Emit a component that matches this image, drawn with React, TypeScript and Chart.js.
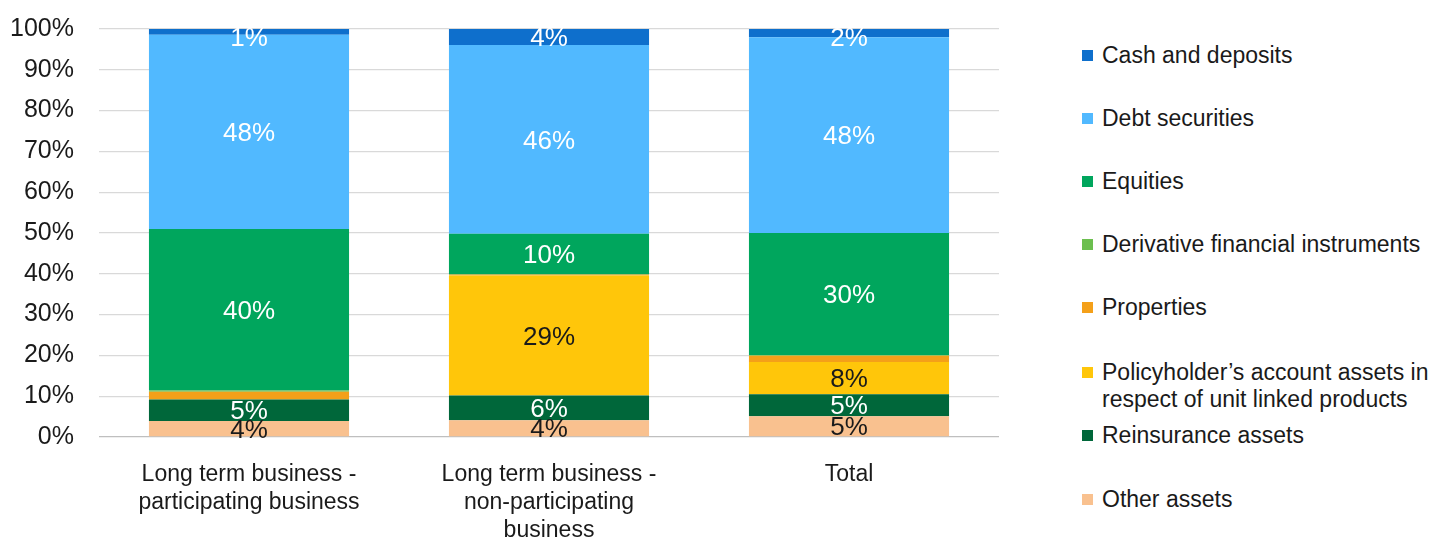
import React, { useEffect, useRef } from "react";
import { Chart, registerables } from "chart.js";

Chart.register(...registerables);

const categories: string[][] = [
  ["Long term business -", "participating business"],
  ["Long term business -", "non-participating", "business"],
  ["Total"],
];

// stacked bottom -> top
const otherAssets = [3.9, 4.1, 5.1];
const reinsuranceAssets = [5.3, 6.1, 5.4];
const policyholderAssets = [0, 29.4, 7.9];
const properties = [1.9, 0.2, 1.5];
const derivatives = [0.3, 0, 0.2];
const equities = [39.6, 10.0, 29.9];
const debtSecurities = [47.6, 46.3, 48.0];
const cashDeposits = [1.4, 3.9, 2.0];

const yTicks = [0, 10, 20, 30, 40, 50, 60, 70, 80, 90, 100];

const FONT = "'Liberation Sans', Arial, sans-serif";

const seriesDefs = [
  { label: "Other assets", data: otherAssets, color: "#F9C18F", labelColor: "#1a1a1a", showLabel: true },
  { label: "Reinsurance assets", data: reinsuranceAssets, color: "#00673A", labelColor: "#FFFFFF", showLabel: true },
  {
    label: "Policyholder\u2019s account assets in respect of unit linked products",
    legendLines: ["Policyholder\u2019s account assets in", "respect of unit linked products"],
    data: policyholderAssets, color: "#FFC60A", labelColor: "#1a1a1a", showLabel: true,
  },
  { label: "Properties", data: properties, color: "#F4A019", labelColor: "#1a1a1a", showLabel: false },
  { label: "Derivative financial instruments", data: derivatives, color: "#6CBF4F", labelColor: "#1a1a1a", showLabel: false },
  { label: "Equities", data: equities, color: "#00A65D", labelColor: "#FFFFFF", showLabel: true },
  { label: "Debt securities", data: debtSecurities, color: "#51B9FF", labelColor: "#FFFFFF", showLabel: true },
  { label: "Cash and deposits", data: cashDeposits, color: "#0E6FCC", labelColor: "#FFFFFF", showLabel: true },
];

// legend order top -> bottom and the top of each entry
const legendOrder = [7, 6, 5, 4, 3, 2, 1, 0];
const legendTops = [42, 105, 168, 231, 294, 359, 422, 486];

const labelPlugin = {
  id: "segLabels",
  afterDatasetsDraw(chart: any) {
    const { ctx, chartArea } = chart;
    ctx.save();
    ctx.font = `26px ${FONT}`;
    ctx.textAlign = "center";
    ctx.textBaseline = "middle";
    chart.data.datasets.forEach((ds: any, i: number) => {
      if (!ds.showLabel) return;
      const meta = chart.getDatasetMeta(i);
      meta.data.forEach((bar: any, j: number) => {
        const v = ds.data[j];
        if (!v) return;
        let y = (bar.y + bar.base) / 2 + 2;
        if (y < chartArea.top + 10) y = chartArea.top + 10;
        ctx.fillStyle = ds.labelColor;
        ctx.fillText(Math.round(v) + "%", bar.x, y);
      });
    });
    ctx.restore();
  },
};

export default function App() {
  const canvasRef = useRef<HTMLCanvasElement | null>(null);

  useEffect(() => {
    if (!canvasRef.current) return;
    const chart = new Chart(canvasRef.current, {
      type: "bar",
      data: {
        labels: categories as any,
        datasets: seriesDefs.map((s) => ({
          label: s.label,
          data: s.data,
          backgroundColor: s.color,
          borderWidth: 0,
          barPercentage: 0.667,
          categoryPercentage: 1,
          showLabel: s.showLabel,
          labelColor: s.labelColor,
        })) as any,
      },
      options: {
        animation: false,
        responsive: true,
        maintainAspectRatio: false,
        layout: { padding: { top: 29, right: 11, left: 0, bottom: 0 } },
        plugins: { legend: { display: false }, tooltip: { enabled: false } },
        scales: {
          x: {
            stacked: true,
            grid: { display: false, drawTicks: false },
            border: { display: false },
            ticks: {
              color: "#1a1a1a",
              font: { family: FONT, size: 23, lineHeight: 1.22 },
              padding: 24,
              maxRotation: 0,
              autoSkip: false,
            },
            afterFit: (scale: any) => {
              scale.height = 104;
            },
          },
          y: {
            stacked: true,
            min: 0,
            max: 100,
            afterBuildTicks: (scale: any) => {
              scale.ticks = yTicks.map((v) => ({ value: v }));
            },
            grid: {
              color: (c: any) => (c.tick && c.tick.value === 0 ? "#BFBFBF" : "#D9D9D9"),
              lineWidth: 1.3,
              drawTicks: false,
            },
            border: { display: false },
            ticks: {
              color: "#1a1a1a",
              font: { family: FONT, size: 25 },
              padding: 25,
              callback: (v: any) => v + "%",
            },
            afterFit: (scale: any) => {
              scale.width = 99;
              scale.paddingTop = 0;
              scale.paddingBottom = 0;
            },
          },
        },
      },
      plugins: [labelPlugin],
    });
    return () => chart.destroy();
  }, []);

  return (
    <div style={{ position: "fixed", left: 0, top: 0, width: 1432, height: 541, background: "#fff", fontFamily: FONT }}>
      <div style={{ position: "absolute", left: 0, top: 0, width: 1010, height: 541 }}>
        <canvas ref={canvasRef} />
      </div>
      {legendOrder.map((idx, k) => {
        const s: any = seriesDefs[idx];
        const lines: string[] = s.legendLines || [s.label];
        return (
          <div
            key={s.label}
            style={{ position: "absolute", left: 1082, top: legendTops[k], display: "flex", alignItems: "flex-start" }}
          >
            <div style={{ width: 11, height: 11, background: s.color, marginTop: 8, marginRight: 9, flex: "none" }} />
            <div style={{ fontSize: 23, lineHeight: "27px", color: "#1a1a1a", whiteSpace: "pre" }}>
              {lines.map((l) => (
                <div key={l}>{l}</div>
              ))}
            </div>
          </div>
        );
      })}
    </div>
  );
}
